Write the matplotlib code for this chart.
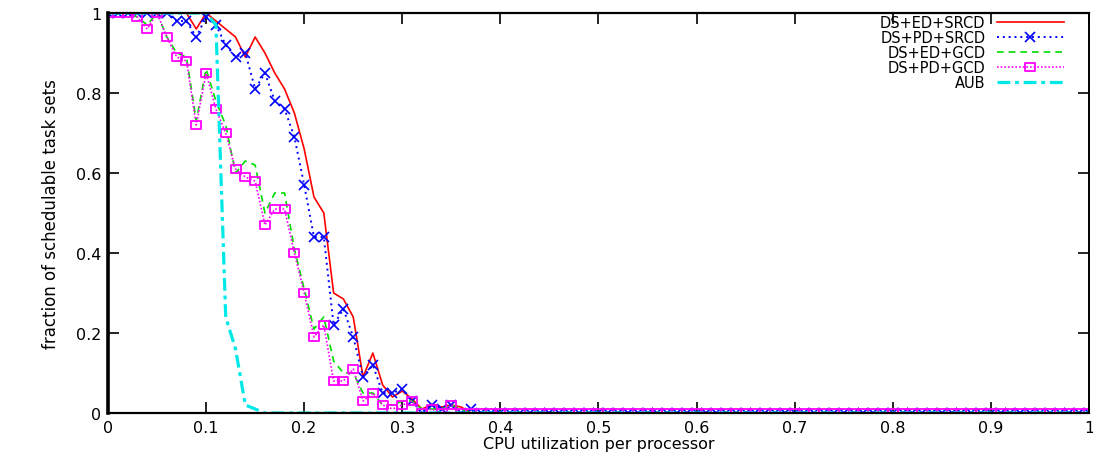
import numpy as np
import matplotlib
matplotlib.use("Agg")
import matplotlib.pyplot as plt
from matplotlib.path import Path

plt.rcParams['font.family'] = ['DejaVu Sans']

# CPU utilization per processor (x grid, step 0.01 from 0 to 1)
utilization = np.round(np.arange(101) * 0.01, 2)

ds_ed_srcd = [1.0, 1.0, 1.0, 1.0, 1.0, 1.0, 1.0, 1.0, 1.0, 0.96,
              1.0, 0.98, 0.96, 0.94, 0.89, 0.94, 0.90, 0.85, 0.81, 0.75,
              0.66, 0.54, 0.50, 0.30, 0.285, 0.24, 0.09, 0.15, 0.07, 0.04,
              0.055, 0.035, 0.01, 0.02, 0.015, 0.02, 0.015, 0.0] + [0.0] * 63

ds_pd_srcd = [1.0, 1.0, 1.0, 1.0, 1.0, 1.0, 1.0, 0.98, 0.98, 0.94,
              0.99, 0.97, 0.92, 0.89, 0.90, 0.81, 0.85, 0.78, 0.76, 0.69,
              0.57, 0.44, 0.44, 0.22, 0.26, 0.19, 0.09, 0.12, 0.05, 0.05,
              0.06, 0.03, 0.0, 0.02, 0.01, 0.02, 0.0, 0.01, 0.0] + [0.0] * 62

ds_ed_gcd = [1.0, 1.0, 1.0, 0.99, 0.97, 1.0, 0.94, 0.90, 0.89, 0.73,
             0.86, 0.78, 0.72, 0.60, 0.63, 0.62, 0.50, 0.55, 0.55, 0.41,
             0.31, 0.21, 0.24, 0.13, 0.10, 0.10, 0.05, 0.05, 0.02, 0.02,
             0.03, 0.03, 0.01, 0.01, 0.01, 0.02, 0.01, 0.0] + [0.0] * 63

ds_pd_gcd = [1.0, 1.0, 1.0, 0.99, 0.96, 1.0, 0.94, 0.89, 0.88, 0.72,
             0.85, 0.76, 0.70, 0.61, 0.59, 0.58, 0.47, 0.51, 0.51, 0.40,
             0.30, 0.19, 0.22, 0.08, 0.08, 0.11, 0.03, 0.05, 0.02, 0.01,
             0.02, 0.03, 0.0, 0.01, 0.0, 0.02, 0.0] + [0.0] * 64

aub = [1.0, 1.0, 1.0, 1.0, 1.0, 1.0, 1.0, 1.0, 1.0, 1.0,
       1.0, 0.97, 0.24, 0.16, 0.02, 0.01, 0.0] + [0.0] * 84

labels = ["DS+ED+SRCD", "DS+PD+SRCD", "DS+ED+GCD", "DS+PD+GCD", "AUB"]
x_ticks = [0, 0.1, 0.2, 0.3, 0.4, 0.5, 0.6, 0.7, 0.8, 0.9, 1]
x_tick_labels = ["0", "0.1", "0.2", "0.3", "0.4", "0.5", "0.6", "0.7", "0.8", "0.9", "1"]
y_ticks = [0, 0.2, 0.4, 0.6, 0.8, 1]
y_tick_labels = ["0", "0.2", "0.4", "0.6", "0.8", "1"]

rect = Path([(-1.4, -1), (1.4, -1), (1.4, 1), (-1.4, 1), (-1.4, -1)],
            [Path.MOVETO, Path.LINETO, Path.LINETO, Path.LINETO, Path.CLOSEPOLY])

fig = plt.figure(figsize=(10.93, 4.56), dpi=100)
ax = fig.add_axes([0.0988, 0.0921, 0.8975, 0.8772])

ax.plot(utilization, ds_ed_srcd, color='#ff0000', lw=1.2, ls='-', label=labels[0])
ax.plot(utilization, ds_pd_srcd, color='#0000ff', lw=1.4, ls=(0, (1, 2)),
        marker='x', ms=6.5, mew=1.2, label=labels[1])
ax.plot(utilization, ds_ed_gcd, color='#00dd00', lw=1.2, ls=(0, (4, 3)), label=labels[2])
ax.plot(utilization, ds_pd_gcd, color='#ff00ff', lw=1.2, ls=(0, (1, 1.2)),
        marker=rect, ms=7.5, mfc='none', mew=1.3, label=labels[3])
ax.plot(utilization, aub, color='#00e8e8', lw=2.3, ls=(0, (4, 1.5, 1.2, 1.5)), label=labels[4])

ax.set_xlim(0, 1)
ax.set_ylim(0, 1)
ax.set_xticks(x_ticks)
ax.set_xticklabels(x_tick_labels)
ax.set_yticks(y_ticks)
ax.set_yticklabels(y_tick_labels)
ax.tick_params(direction='in', length=8, width=1.2, top=True, right=True,
               labelsize=11.5, pad=5)
ax.set_xlabel("CPU utilization per processor", fontsize=11.5, labelpad=1)
ax.set_ylabel("fraction of schedulable task sets", fontsize=12, labelpad=11)

ax.spines['left'].set_linewidth(2.6)
ax.spines['bottom'].set_linewidth(1.6)
ax.spines['top'].set_linewidth(1.6)
ax.spines['right'].set_linewidth(1.4)

leg = ax.legend(loc='upper right', bbox_to_anchor=(0.985, 1.02), frameon=False,
                markerfirst=False, fontsize=10.5, handlelength=4.6,
                labelspacing=0.0, handletextpad=0.8, borderpad=0.2)
try:
    leg._legend_handle_box.get_children()[0].align = "right"
except Exception:
    pass

fig.savefig("out.png", dpi=100)
